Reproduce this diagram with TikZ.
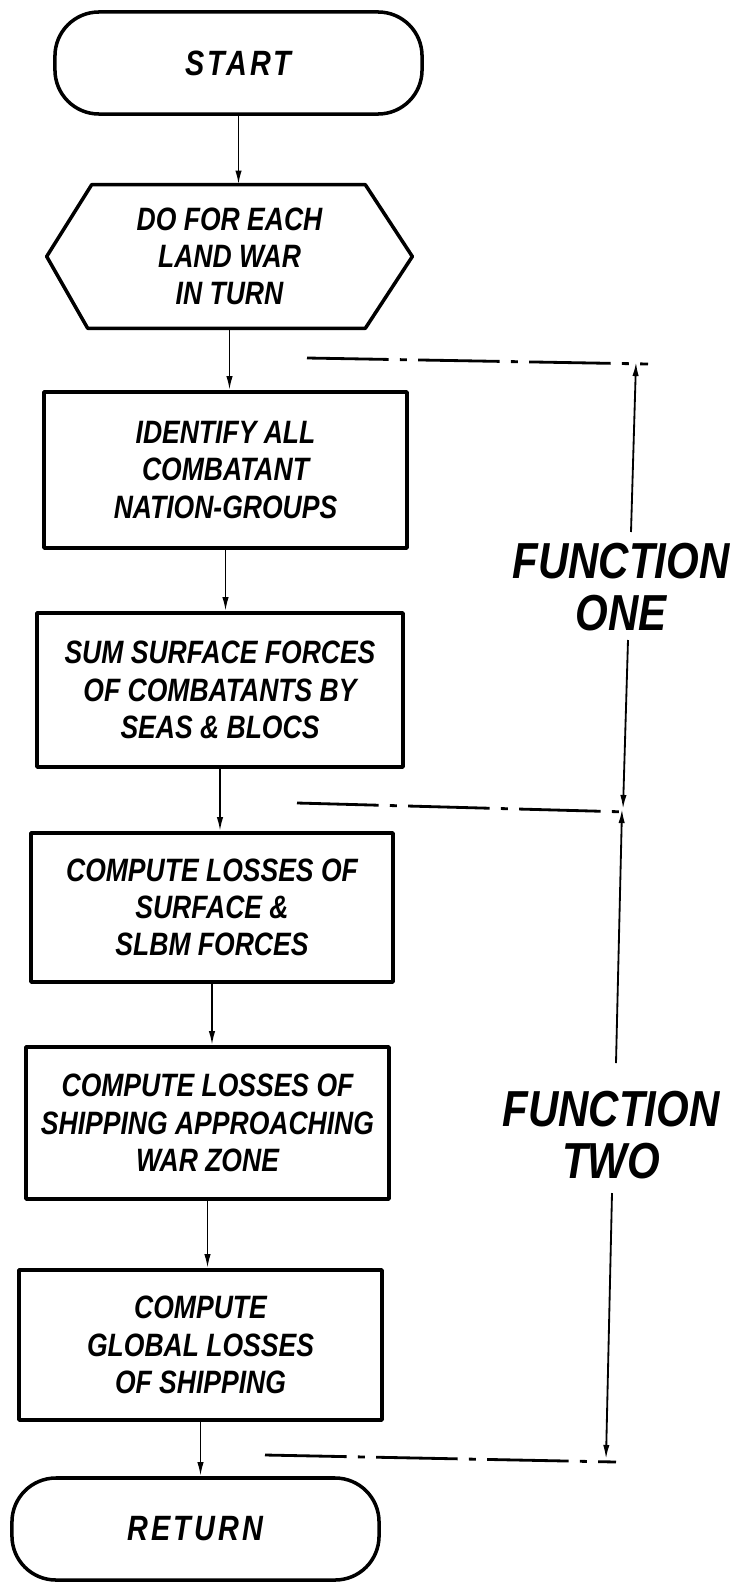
\documentclass[tikz,border=0pt]{standalone}
\usepackage{fontspec}
\setmainfont{Liberation Sans}
\newfontfamily\handfont[FakeStretch=0.82]{Liberation Sans}
\newfontfamily\bighandfont[FakeStretch=0.83]{Liberation Sans}
\usepackage{tikz}
\usetikzlibrary{calc}
\usetikzlibrary{arrows.meta}
\usetikzlibrary{calc,positioning}

\tikzset{
  boxtext/.style={align=center, inner sep=0pt, font=\handfont\bfseries\itshape\fontsize{23}{26.5}\selectfont},
  procbox/.style={boxtext, draw, line width=2.5pt, line join=round},
  termbox/.style={procbox, rounded corners=1.1cm, font=\handfont\bfseries\itshape\fontsize{25}{28}\selectfont\addfontfeature{LetterSpace=9}},
  flowarrow/.style={line width=1.3pt, -{Latex[length=10pt,width=4.5pt]}},
  dimarrow/.style={line width=1.3pt, -{Latex[length=10pt,width=4.5pt]}},
  extline/.style={line width=2pt, dash pattern=on 58pt off 8pt on 5pt off 8pt},
  funclabel/.style={align=center, inner sep=0pt, font=\bighandfont\bfseries\itshape\fontsize{36}{37}\selectfont}
}

\begin{document}
\begin{tikzpicture}[x=0.025cm, y=-0.025cm]
       \useasboundingbox (0,0) rectangle (740,1584);

       \node[termbox, minimum width=9.175cm, minimum height=2.55cm] (start) at (238.5,63) {START};

       \node[boxtext, minimum width=9.125cm, minimum height=3.575cm] (loop) at (229.5,256.5) {DO FOR EACH\\LAND WAR\\IN TURN};

       \draw[line width=2.5pt, line join=round] (loop.west) -- ($(loop.north west)+(45,0)$) -- ($(loop.north east)+(-47,0)$) -- (loop.east) -- ($(loop.south east)+(-47,0)$) -- ($(loop.south west)+(41,0)$) -- cycle;

       \node[procbox, minimum width=9.075cm, minimum height=3.9cm] (idall) at (225.5,470) {IDENTIFY ALL\\COMBATANT\\NATION-GROUPS};

       \node[procbox, minimum width=9.15cm, minimum height=3.85cm] (sumforces) at (220,690) {SUM SURFACE FORCES\\OF COMBATANTS BY\\SEAS \& BLOCS};

       \node[procbox, minimum width=9.05cm, minimum height=3.725cm] (lossforces) at (212,907.5) {COMPUTE LOSSES OF\\SURFACE \&\\SLBM FORCES};

       \node[procbox, minimum width=9.075cm, minimum height=3.8cm] (lossship) at (207.5,1123) {COMPUTE LOSSES OF\\SHIPPING APPROACHING\\WAR ZONE};

       \node[procbox, minimum width=9.075cm, minimum height=3.75cm] (globloss) at (200.5,1345) {COMPUTE\\GLOBAL LOSSES\\OF SHIPPING};

       \node[termbox, minimum width=9.175cm, minimum height=2.55cm] (return) at (195.5,1529) {RETURN};

       \draw[flowarrow] (start.south) -- (start.south |- loop.north);
       \draw[flowarrow] (loop.south) -- (loop.south |- idall.north);
       \draw[flowarrow] (idall.south) -- (idall.south |- sumforces.north);
       \draw[flowarrow] (sumforces.south) -- (sumforces.south |- lossforces.north);
       \draw[flowarrow] (lossforces.south) -- (lossforces.south |- lossship.north);
       \draw[flowarrow] (lossship.south) -- (lossship.south |- globloss.north);
       \draw[flowarrow] (globloss.south) -- (globloss.south |- return.north);

       \coordinate (topL) at (307,358);
       \coordinate (topR) at (648,364);
       \coordinate (midL) at (297,803);
       \coordinate (midR) at (628,812);
       \coordinate (botL) at (265,1455);
       \coordinate (botR) at (616,1462);

       \draw[extline] (topL) -- (topR);
       \draw[extline] (midL) -- (midR);
       \draw[extline] (botL) -- (botR);

       \node[funclabel] (fone) at (621,587) {FUNCTION\\ONE};
       \node[funclabel] (ftwo) at (611,1135) {FUNCTION\\TWO};

       \coordinate (oneTip) at (636,362);
       \coordinate (oneUp) at (631,532);
       \coordinate (oneDn) at (628,640);
       \coordinate (oneEnd) at (623,809);

       \coordinate (twoTip) at (622,809);
       \coordinate (twoUp) at (616,1063);
       \coordinate (twoDn) at (612,1193);
       \coordinate (twoEnd) at (606,1459);

       \draw[dimarrow] (oneUp) -- (oneTip);
       \draw[dimarrow] (oneDn) -- (oneEnd);
       \draw[dimarrow] (twoUp) -- (twoTip);
       \draw[dimarrow] (twoDn) -- (twoEnd);
\end{tikzpicture}
\end{document}
